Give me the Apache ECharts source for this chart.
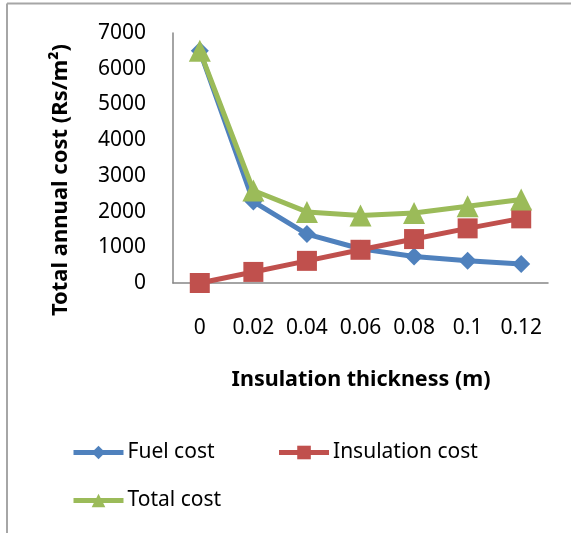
<!DOCTYPE html>
<html>
<head>
<meta charset="utf-8">
<script src="https://cdn.jsdelivr.net/npm/echarts@6/dist/echarts.min.js"></script>
<style>
  html, body { margin: 0; padding: 0; background: #fff; }
  #chart { width: 571px; height: 533px; }
</style>
</head>
<body>
<div id="chart"></div>
<script>
// Insulation thickness (m) and the annual cost components (Rs/m²)
const thickness = ['0', '0.02', '0.04', '0.06', '0.08', '0.1', '0.12'];
const fuelCost = [6500, 2280, 1370, 960, 740, 625, 530];
const insulationCost = [0, 310, 620, 930, 1230, 1530, 1810];
const totalCost = [6500, 2590, 1990, 1890, 1960, 2150, 2340];

const FONT = 'Noto Sans';
const AXIS_GRAY = '#868686';

const chart = echarts.init(document.getElementById('chart'), null, { renderer: 'canvas' });

function lineSeries(name, data, color, symbol, size) {
  return {
    name: name,
    type: 'line',
    data: data,
    symbol: symbol,
    symbolSize: size,
    showSymbol: true,
    lineStyle: { color: color, width: 5 },
    itemStyle: { color: color },
    emphasis: { disabled: true },
    animation: false
  };
}

const legendText = { fontFamily: FONT, fontSize: 21, color: '#000', padding: [0, 0, 0, -1] };

chart.setOption({
  backgroundColor: '#fff',
  animation: false,
  grid: { left: 173, top: 33, right: 23, bottom: 250, containLabel: false },
  xAxis: {
    type: 'category',
    data: thickness,
    boundaryGap: true,
    axisLine: { lineStyle: { color: AXIS_GRAY, width: 1.5 } },
    axisTick: { show: false },
    axisLabel: { fontFamily: FONT, fontSize: 21, color: '#000', margin: 35, interval: 0 },
    splitLine: { show: false }
  },
  yAxis: {
    type: 'value',
    min: 0,
    max: 7000,
    interval: 1000,
    axisLine: { show: true, lineStyle: { color: AXIS_GRAY, width: 1.5 } },
    axisTick: { show: false },
    axisLabel: {
      fontFamily: FONT, fontSize: 21, color: '#000', margin: 27,
      formatter: function (v) { return String(v); }
    },
    splitLine: { show: false }
  },
  legend: [
    {
      data: ['Fuel cost', 'Insulation cost'],
      left: 66,
      top: 437,
      itemWidth: 50,
      itemHeight: 17,
      itemGap: 62,
      lineStyle: { width: 5 },
      textStyle: legendText
    },
    {
      data: ['Total cost'],
      left: 66,
      top: 485,
      itemWidth: 50,
      itemHeight: 17,
      lineStyle: { width: 5 },
      textStyle: legendText
    }
  ],
  graphic: [
    // outer frame edges
    { type: 'line', shape: { x1: 7, y1: 3.5, x2: 571, y2: 3.5 }, style: { stroke: '#a6a6a6', lineWidth: 2 } },
    { type: 'line', shape: { x1: 7, y1: 3.5, x2: 7, y2: 533 }, style: { stroke: '#a6a6a6', lineWidth: 2 } },
    // axis titles
    {
      type: 'text',
      x: 61, y: 180,
      rotation: Math.PI / 2,
      style: {
        text: 'Total annual cost (Rs/m²)',
        fontFamily: FONT, fontSize: 22, fontWeight: 'bold', fill: '#000',
        align: 'center', verticalAlign: 'middle'
      }
    },
    {
      type: 'text',
      x: 361, y: 380,
      style: {
        text: 'Insulation thickness (m)',
        fontFamily: FONT, fontSize: 21.5, fontWeight: 'bold', fill: '#000',
        align: 'center', verticalAlign: 'middle'
      }
    }
  ],
  series: [
    lineSeries('Fuel cost', fuelCost, '#4F81BD', 'diamond', 18),
    lineSeries('Insulation cost', insulationCost, '#C0504D', 'rect', 20),
    lineSeries('Total cost', totalCost, '#9BBB59', 'triangle', 22)
  ]
});
</script>
</body>
</html>
